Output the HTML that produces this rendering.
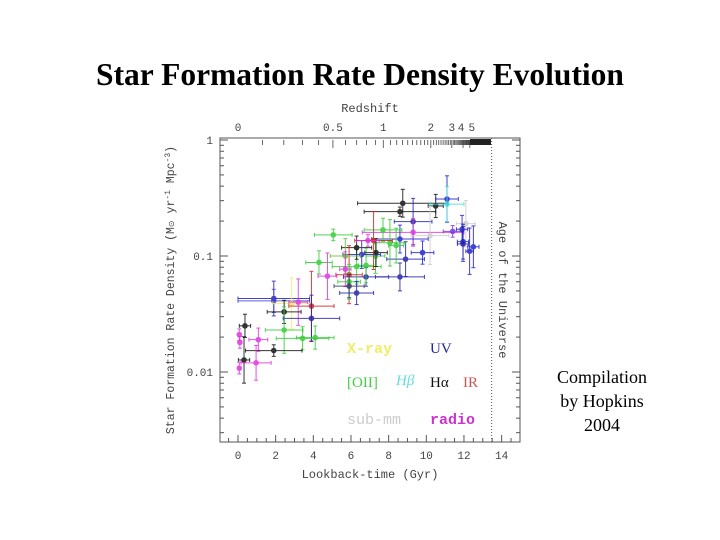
<!DOCTYPE html>
<html><head><meta charset="utf-8"><style>
body{margin:0;background:#fff;width:720px;height:540px;overflow:hidden;font-family:"Liberation Serif",serif}
svg{position:absolute;left:0;top:0}
</style></head><body>
<svg width="720" height="540" id="c">
<text x="360" y="85" text-anchor="middle" font-family="Liberation Serif" font-weight="bold" font-size="31.5">Star Formation Rate Density Evolution</text>
<g font-family="Liberation Serif" font-size="18" text-anchor="middle">
<text x="602" y="383">Compilation</text><text x="602" y="407">by Hopkins</text><text x="602" y="431">2004</text></g>
<rect x="220" y="138" width="300" height="304" fill="none" stroke="#555" stroke-width="1"/>
<g id="ax"></g><g id="marks"></g>
<text x="370" y="112" text-anchor="middle" font-family="Liberation Mono" font-size="12" fill="#444">Redshift</text>
<text x="370" y="478" text-anchor="middle" font-family="Liberation Mono" font-size="12" fill="#444">Lookback-time (Gyr)</text>
<text transform="translate(174,290) rotate(-90)" text-anchor="middle" font-family="Liberation Mono" font-size="11.5" fill="#444">Star Formation Rate Density (M<tspan font-size="8">⊙</tspan> yr<tspan font-size="8" dy="-4">-1</tspan><tspan dy="4"> Mpc</tspan><tspan font-size="8" dy="-4">-3</tspan><tspan dy="4">)</tspan></text>
<text transform="translate(499,290) rotate(90)" text-anchor="middle" font-family="Liberation Mono" font-size="12" fill="#444">Age of the Universe</text>
<g font-size="15">
<text x="347" y="353" fill="#eeee66" font-family="Liberation Mono" font-weight="bold">X-ray</text>
<text x="430" y="353" fill="#22229a" font-family="Liberation Serif">UV</text>
<text x="347" y="387" fill="#44cc44" font-family="Liberation Serif">[OII]</text>
<text x="396" y="385" fill="#66dddd" font-family="Liberation Serif" font-style="italic">Hβ</text>
<text x="430" y="387" fill="#111" font-family="Liberation Serif">Hα</text>
<text x="463" y="387" fill="#cc5555" font-family="Liberation Serif">IR</text>
<text x="347" y="424" fill="#cccccc" font-family="Liberation Mono">sub-mm</text>
<text x="430" y="424" fill="#cc33cc" font-family="Liberation Mono" font-weight="bold">radio</text>
</g>
</svg>
<script>
const xTicks=[0,2,4,6,8,10,12,14];
const yTicks=[1,0.1,0.01];
const yTickLabels=["1","0.1","0.01"];
const zLabels=[0,0.5,1,2,3,4,5];
const zLabelText=["0","0.5","1","2","3","4","5"];
const ageUniverse=13.47;
// points: lookback time (Gyr), SFR density, x half-error (Gyr), y error (dex), color
const ptT=[8.75,8.6,10.5,11.1,11.1,9.3,9.3,10.2,12.1,11.4,11.9,11.95,11.95,12.3,12.5,9.8,8.9,8.6,8.6,6.8,5.06,4.3,7.7,8.07,8.4,6.3,6.8,7.3,6.3,7.33,6.57,7.2,6.9,5.9,5.7,4.75,5.7,5.9,5.9,6.3,1.9,1.9,2.85,3.2,3.9,3.9,2.45,0.37,2.45,3.43,4.1,0.07,0.1,1.08,1.9,0.32,0.96,0.07];
const ptV=[0.285,0.241,0.27,0.31,0.28,0.198,0.16,0.15,0.19,0.163,0.17,0.133,0.127,0.11,0.12,0.107,0.094,0.14,0.066,0.066,0.152,0.088,0.168,0.13,0.123,0.081,0.083,0.1,0.118,0.107,0.103,0.136,0.136,0.069,0.1,0.067,0.077,0.06,0.055,0.048,0.043,0.041,0.039,0.04,0.037,0.029,0.033,0.025,0.023,0.0195,0.0198,0.021,0.018,0.019,0.0153,0.0127,0.012,0.0108];
const ptXE=[2.4,1.9,0.4,0.6,0.9,1.0,2.7,1.0,0.5,0.5,0.3,0.3,0.3,0.2,0.3,0.6,1.0,1.5,1.3,1.2,1.0,0.7,1.0,0.8,0.4,1.3,0.4,0.5,0.8,0.6,1.0,1.0,0.6,0.7,0.8,0.5,0.3,0.6,0.8,0.9,1.9,1.9,1.0,0.5,1.2,1.5,0.9,0.3,1.0,1.4,1.0,0.05,0.1,0.5,1.5,0.3,0.8,0.05];
const ptYE=[0.12,0.04,0.1,0.2,0.15,0.2,0.12,0.25,0.2,0.05,0.12,0.15,0.15,0.2,0.18,0.1,0.15,0.12,0.12,0.08,0.05,0.1,0.1,0.2,0.15,0.15,0.15,0.15,0.1,0.12,0.12,0.25,0.05,0.25,0.15,0.2,0.15,0.15,0.1,0.1,0.15,0.1,0.22,0.2,0.3,0.2,0.1,0.1,0.2,0.1,0.1,0.05,0.05,0.1,0.05,0.2,0.15,0.05];
const ptC=["#111","#111","#111","#22c","#4dd","#22a","#d3d","#ccc","#ccc","#73d","#22c","#22c","#22a","#22c","#22c","#22c","#22a","#22c","#22a","#22a","#3c3","#3c3","#3c3","#3c3","#3c3","#3c3","#3c3","#3c3","#111","#111","#22c","#c22","#d3d","#c22","#6b3","#d3d","#d3d","#3c3","#336","#22a","#22c","#44c","#ee6","#d3d","#c22","#22a","#111","#111","#3c3","#3c3","#3c3","#d3d","#d3d","#d3d","#111","#111","#d3d","#d3d"];

const NS="http://www.w3.org/2000/svg";
const X0=220,X1=520,Y0=138,Y1=442;
const xS=t=>238+t*18.83;
const yS=v=>140-116*Math.log10(v);
function lookback(z){
  let n=400,s=0,th=977.8/70;
  for(let i=0;i<n;i++){const zz=(i+0.5)*z/n;s+=1/((1+zz)*Math.sqrt(0.3*Math.pow(1+zz,3)+0.7));}
  return th*s*z/n;}
function mk(tag,at,parent){const e=document.createElementNS(NS,tag);for(const k in at)e.setAttribute(k,at[k]);parent.appendChild(e);return e;}
const ax=document.getElementById('ax'),mg=document.getElementById('marks');
for(let t=-0.5;t<=14.5;t+=0.5){const x=xS(t);if(x<X0||x>X1)continue;const L=(t%2===0)?7:4;
 const l=mk('line',{x1:x,x2:x,y1:Y1,y2:Y1-L,stroke:'#555'},ax);
 
 }
xTicks.forEach(t=>{const e=mk('text',{x:xS(t),y:459,'text-anchor':'middle','font-family':'Liberation Mono','font-size':11,fill:'#444'},ax);e.textContent=t;
 
 });
for(let d=-3;d<=0;d++)for(let m=1;m<=9;m++){const v=m*Math.pow(10,d),y=yS(v);if(y<Y0-0.5||y>Y1)continue;const L=m===1?8:4;
 const a=mk('line',{x1:X0,x2:X0+L,y1:y,y2:y,stroke:'#555'},ax);
 
 
 const b=mk('line',{x1:X1,x2:X1-L,y1:y,y2:y,stroke:'#555'},ax);
 
 }
yTicks.forEach((v,i)=>{const e=mk('text',{x:213,y:yS(v)+4,'text-anchor':'end','font-family':'Liberation Mono','font-size':11,fill:'#444'},ax);e.textContent=yTickLabels[i];
 
 });
for(let z=0.1;z<=30;z+= (z<5?0.1:(z<10?0.5:2))){const x=xS(lookback(z));if(x>491)break;const zr=Math.round(z*10)/10;const L=(zr===0.5||zr===1||zr===2||zr===3||zr===4||zr===5)?8:5;
 const l=mk('line',{x1:x,x2:x,y1:Y0+2,y2:Y0+2+L,stroke:'#444','stroke-width':0.8},ax);
 
 }
const band=mk('rect',{x:470,y:Y0+1,width:21,height:6,fill:'#222'},ax);


zLabels.forEach((z,i)=>{const e=mk('text',{x:xS(lookback(z))+(z===4?-2:z===5?2:0),y:131,'text-anchor':'middle','font-family':'Liberation Mono','font-size':11,fill:'#444'},ax);e.textContent=zLabelText[i];
 
 });
const ag=mk('line',{x1:xS(ageUniverse),x2:xS(ageUniverse),y1:Y0,y2:Y1,stroke:'#555','stroke-dasharray':'1,2'},ax);


ptT.forEach((t,i)=>{const g=mk('g',{stroke:ptC[i],fill:ptC[i],'stroke-width':1,opacity:0.85},mg);
 
 
 const x=xS(t),y=yS(ptV[i]),xa=xS(t-ptXE[i]),xb=xS(t+ptXE[i]),ya=yS(ptV[i]*Math.pow(10,ptYE[i])),yb=yS(ptV[i]/Math.pow(10,ptYE[i]));
 mk('line',{x1:xa,x2:xb,y1:y,y2:y},g);mk('line',{x1:x,x2:x,y1:ya,y2:yb},g);
 mk('line',{x1:xa,x2:xa,y1:y-2,y2:y+2},g);mk('line',{x1:xb,x2:xb,y1:y-2,y2:y+2},g);
 mk('line',{x1:x-2,x2:x+2,y1:ya,y2:ya},g);mk('line',{x1:x-2,x2:x+2,y1:yb,y2:yb},g);
 mk('circle',{cx:x,cy:y,r:2.8,stroke:'none'},g);});
</script>
</body></html>
